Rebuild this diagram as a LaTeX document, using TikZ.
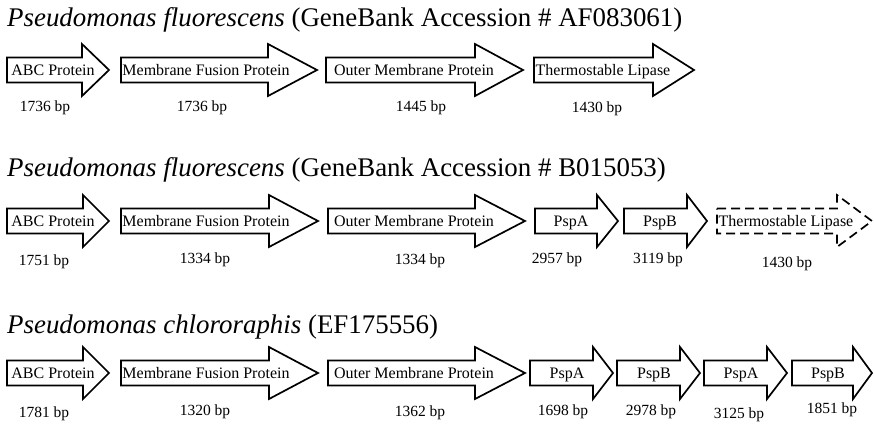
\documentclass[tikz,border=0pt]{standalone}
\usepackage{fontspec}
\setmainfont{Liberation Serif}
\usetikzlibrary{positioning}
% gene arrow: tail x, head base x, tip x, centre y
\newcommand{\genearrow}[5][]{\draw[gene,#1] (#2,#5-12.5) -- (#3,#5-12.5) -- (#3,#5-26) -- (#4,#5) -- (#3,#5+26) -- (#3,#5+12.5) -- (#2,#5+12.5) -- cycle;}

\begin{document}
\begin{tikzpicture}[x=1pt,y=-1pt,
    title/.style={anchor=base west,inner sep=0pt,font=\fontsize{26.9}{30}\selectfont},
    gene/.style={draw,line width=1.7pt,fill=white,miter limit=20},
    genename/.style={anchor=base,inner sep=0pt,font=\fontsize{16}{18}\selectfont},
    bplabel/.style={anchor=base,inner sep=0pt,font=\fontsize{15.5}{18}\selectfont}]
  \useasboundingbox (0,0) rectangle (874,424);

  % first strain
  \node[title] (t_one) at (7,26) {\textit{Pseudomonas fluorescens} (GeneBank Accession \# AF083061)};
  \genearrow{7}{82}{109}{70}
  \genearrow{121}{268}{317}{70}
  \genearrow{326}{475}{523}{70}
  \genearrow{534}{653}{694}{70}
  \node[genename] (abc_one) at (53,75.5) {ABC Protein};
  \node[genename] (mfp_one) at (206,75.5) {Membrane Fusion Protein};
  \node[genename] (omp_one) at (414,75.5) {Outer Membrane Protein};
  \node[genename] (lip_one) at (603,75.5) {Thermostable Lipase};
  \node[bplabel] (abc_one_bp) at (45,111) {1736 bp};
  \node[bplabel] (mfp_one_bp) at (202,111) {1736 bp};
  \node[bplabel] (omp_one_bp) at (421,111) {1445 bp};
  \node[bplabel] (lip_one_bp) at (597,112) {1430 bp};

  % second strain
  \node[title] (t_two) at (7,176) {\textit{Pseudomonas fluorescens} (GeneBank Accession \# B015053)};
  \genearrow{7}{83}{109}{221}
  \genearrow{121}{269}{318}{221}
  \genearrow{328}{475}{525}{221}
  \genearrow{535}{597}{618}{221}
  \genearrow{624}{687}{707}{221}
  \genearrow[dash pattern=on 9pt off 5pt]{717}{837}{872}{221}
  \node[genename] (abc_two) at (53,226.5) {ABC Protein};
  \node[genename] (mfp_two) at (206,226.5) {Membrane Fusion Protein};
  \node[genename] (omp_two) at (414,226.5) {Outer Membrane Protein};
  \node[genename] (pspa_two) at (571,226.5) {PspA};
  \node[genename] (pspb_two) at (660,226.5) {PspB};
  \node[genename] (lip_two) at (786,226.5) {Thermostable Lipase};
  \node[bplabel] (abc_two_bp) at (44,265) {1751 bp};
  \node[bplabel] (mfp_two_bp) at (205,263) {1334 bp};
  \node[bplabel] (omp_two_bp) at (420,264) {1334 bp};
  \node[bplabel] (pspa_two_bp) at (557,263) {2957 bp};
  \node[bplabel] (pspb_two_bp) at (658,263) {3119 bp};
  \node[bplabel] (lip_two_bp) at (787,267) {1430 bp};

  % third strain
  \node[title] (t_three) at (7,333) {\textit{Pseudomonas chlororaphis} (EF175556)};
  \genearrow{7}{83}{109}{373}
  \genearrow{121}{269}{318}{373}
  \genearrow{328}{475}{525}{373}
  \genearrow{530}{593}{613}{373}
  \genearrow{617}{680}{700}{373}
  \genearrow{704}{767}{787}{373}
  \genearrow{792}{853}{872}{373}
  \node[genename] (abc_three) at (53,378.5) {ABC Protein};
  \node[genename] (mfp_three) at (206,378.5) {Membrane Fusion Protein};
  \node[genename] (omp_three) at (414,378.5) {Outer Membrane Protein};
  \node[genename] (pspa_three) at (567,378.5) {PspA};
  \node[genename] (pspb_three) at (654,378.5) {PspB};
  \node[genename] (pspa_four) at (741,378.5) {PspA};
  \node[genename] (pspb_four) at (828,378.5) {PspB};
  \node[bplabel] (abc_three_bp) at (44,417) {1781 bp};
  \node[bplabel] (mfp_three_bp) at (205,415) {1320 bp};
  \node[bplabel] (omp_three_bp) at (420,416) {1362 bp};
  \node[bplabel] (pspa_three_bp) at (563,415) {1698 bp};
  \node[bplabel] (pspb_three_bp) at (651,415) {2978 bp};
  \node[bplabel] (pspa_four_bp) at (739,418) {3125 bp};
  \node[bplabel] (pspb_four_bp) at (832,413) {1851 bp};
\end{tikzpicture}
\end{document}
